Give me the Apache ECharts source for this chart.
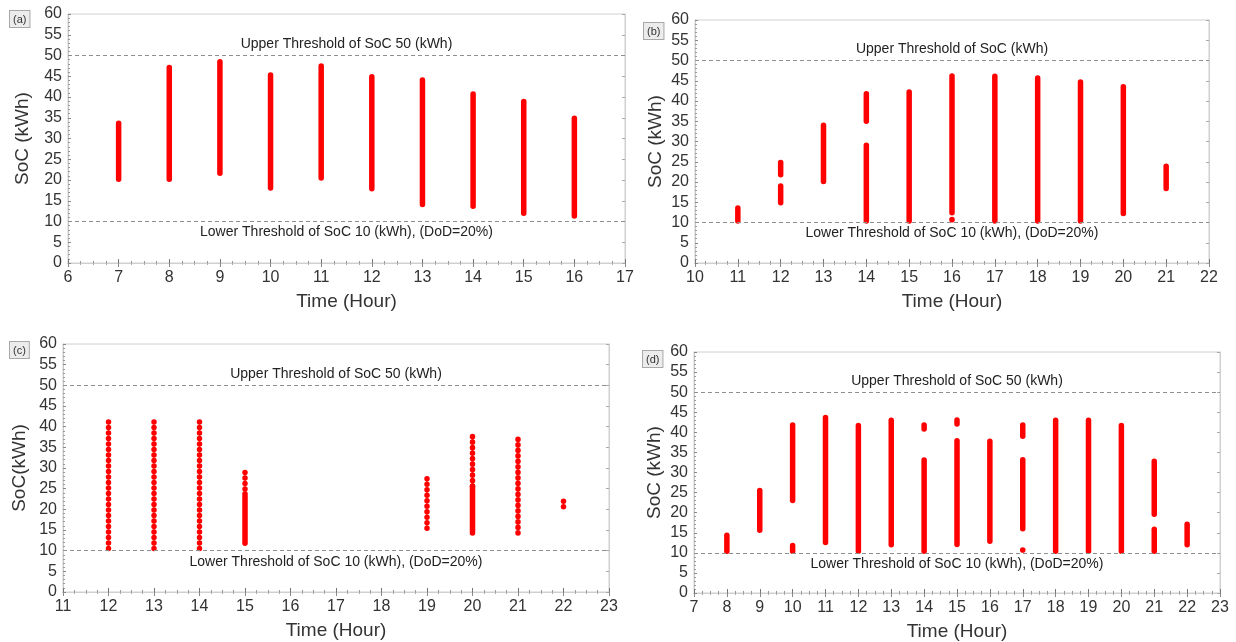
<!DOCTYPE html>
<html><head><meta charset="utf-8">
<script src="https://cdn.jsdelivr.net/npm/echarts@6/dist/echarts.min.js"></script>
<style>html,body{margin:0;padding:0;background:#fff}#c{width:1236px;height:642px}</style>
</head><body><div id="c"></div>
<script>
// ---------- DATA ----------
const yTicks = [0,5,10,15,20,25,30,35,40,45,50,55,60];
const upperThreshold = 50;
const lowerThreshold = 10;

// Panel (a): x range 6..17
const hoursA = [7, 8, 9, 10, 11, 12, 13, 14, 15, 16];
const lowA   = [20.2, 20.2, 21.6, 18.1, 20.5, 17.9, 14.1, 13.7, 12.0, 11.3];
const highA  = [33.7, 47.1, 48.5, 45.3, 47.5, 44.9, 44.1, 40.7, 38.9, 34.9];

// Panel (b): x range 10..22
const hoursB = [11, 12, 12, 13, 14, 14, 15, 16, 16, 17, 18, 19, 20, 21];
const lowB   = [10.4, 14.9, 21.8, 20.1, 10.4, 35.0, 10.4, 12.4, 10.7, 10.4, 10.4, 10.4, 12.2, 18.4];
const highB  = [13.6, 19.0, 24.8, 34.0, 29.1, 41.8, 42.2, 46.2, 10.7, 46.1, 45.7, 44.7, 43.5, 23.9];

// Panel (c): x range 11..23 — sparse (individually visible samples) and dense runs
const hoursCsparse = [12, 13, 14, 15, 19, 20, 21, 22];
const lowCsparse   = [10.5, 10.5, 10.5, 24.9, 15.4, 25.6, 14.3, 20.6];
const highCsparse  = [42.0, 42.0, 42.0, 28.9, 28.4, 37.9, 37.1, 22.8];
const hoursCdense  = [15, 20];
const lowCdense    = [11.8, 14.3];
const highCdense   = [23.8, 25.6];

// Panel (d): x range 7..23
const hoursD = [8, 9, 10, 10, 11, 12, 13, 14, 14, 15, 15, 16, 17, 17, 17, 18, 19, 20, 21, 21, 22];
const lowD   = [10.4, 15.6, 10.4, 23.0, 12.6, 10.4, 12.0, 10.4, 40.8, 12.1, 42.1, 12.9, 10.7, 16.0, 39.0, 10.4, 10.4, 10.4, 10.4, 19.6, 12.0];
const highD  = [14.4, 25.5, 11.8, 41.8, 43.7, 41.7, 43.0, 33.1, 41.8, 37.9, 43.1, 37.8, 10.7, 33.2, 41.8, 43.0, 43.0, 41.7, 15.9, 32.8, 17.1];

const upperLabelA = 'Upper Threshold of SoC 50 (kWh)';
const upperLabelB = 'Upper Threshold of SoC (kWh)';
const lowerLabel  = 'Lower Threshold of SoC 10 (kWh), (DoD=20%)';

// ---------- LAYOUT ----------
const TICK_FONT = "'Liberation Sans', Arial, sans-serif";
const NARROW_FONT = "'Liberation Sans Narrow', 'Liberation Sans', Arial, sans-serif";

const panels = [
  {tag:'(a)', grid:{left:68, top:14, width:557, height:249}, xMin:6, xMax:17, yName:'SoC (kWh)', yGap:36, upper:upperLabelA,
   segs:[{x:hoursA, lo:lowA, hi:highA, dotted:false}], tagPos:[9,10]},
  {tag:'(b)', grid:{left:695, top:20, width:514, height:243}, xMin:10, xMax:22, yName:'SoC (kWh)', yGap:30, upper:upperLabelB,
   segs:[{x:hoursB, lo:lowB, hi:highB, dotted:false}], tagPos:[643,22]},
  {tag:'(c)', grid:{left:63, top:344, width:546, height:248}, xMin:11, xMax:23, yName:'SoC(kWh)', yGap:34, upper:upperLabelA,
   segs:[{x:hoursCsparse, lo:lowCsparse, hi:highCsparse, dotted:true},{x:hoursCdense, lo:lowCdense, hi:highCdense, dotted:false}], tagPos:[9,341]},
  {tag:'(d)', grid:{left:694, top:352, width:526, height:241}, xMin:7, xMax:23, yName:'SoC (kWh)', yGap:30, upper:upperLabelA,
   segs:[{x:hoursD, lo:lowD, hi:highD, dotted:false}], tagPos:[642,350]}
];

const grids = [], xAxes = [], yAxes = [], series = [], graphics = [];

panels.forEach((p, gi) => {
  grids.push(Object.assign({show:true, borderColor:'#d0d0d0', borderWidth:1, backgroundColor:'#fff'}, p.grid));
  const baseX = {type:'value', gridIndex:gi, min:p.xMin, max:p.xMax, interval:1, splitLine:{show:false}};
  xAxes.push(Object.assign({}, baseX, {
    position:'bottom',
    axisLine:{show:true, lineStyle:{color:'#777', width:1}},
    axisTick:{show:true, inside:true, length:4, lineStyle:{color:'#777'}},
    minorTick:{show:true, splitNumber:4, length:2, lineStyle:{color:'#999'}},
    axisLabel:{fontSize:16, color:'#333', margin:7, fontFamily:TICK_FONT},
    name:'Time (Hour)', nameLocation:'middle', nameGap:29,
    nameTextStyle:{fontSize:19, color:'#333', fontFamily:TICK_FONT}
  }));
  xAxes.push(Object.assign({}, baseX, {
    position:'top',
    axisLine:{show:true, lineStyle:{color:'#d0d0d0'}},
    axisTick:{show:true, inside:true, length:4, lineStyle:{color:'#888'}},
    minorTick:{show:true, splitNumber:4, length:2, lineStyle:{color:'#aaa'}},
    axisLabel:{show:false}
  }));
  const baseY = {type:'value', gridIndex:gi, min:yTicks[0], max:yTicks[yTicks.length-1], interval:yTicks[1]-yTicks[0], splitLine:{show:false}};
  yAxes.push(Object.assign({}, baseY, {
    position:'left',
    axisLine:{show:true, lineStyle:{color:'#c8c8c8'}},
    axisTick:{show:true, inside:true, length:3, lineStyle:{color:'#888'}},
    minorTick:{show:true, splitNumber:5, length:2, lineStyle:{color:'#999'}},
    axisLabel:{fontSize:16, color:'#333', margin:6, fontFamily:TICK_FONT},
    name:p.yName, nameLocation:'middle', nameGap:p.yGap, nameRotate:90,
    nameTextStyle:{fontSize:19, color:'#333', fontFamily:TICK_FONT}
  }));
  yAxes.push(Object.assign({}, baseY, {
    position:'right',
    axisLine:{show:true, lineStyle:{color:'#d0d0d0'}},
    axisTick:{show:true, inside:true, length:3, lineStyle:{color:'#aaa'}},
    minorTick:{show:false},
    axisLabel:{show:false}
  }));

  p.segs.forEach((s, si) => {
    const dotted = s.dotted;
    const ser = {
      type:'custom', xAxisIndex:gi*2, yAxisIndex:gi*2, silent:true, animation:false,
      data: s.x.map((h, i) => [h, s.lo[i], s.hi[i]]),
      encode:{x:0, y:[1,2]},
      renderItem: function(params, api){
        const x = api.value(0), lo = api.value(1), hi = api.value(2);
        const p1 = api.coord([x, lo]), p2 = api.coord([x, hi]);
        if (lo === hi) {
          return {type:'circle', shape:{cx:p1[0], cy:p1[1], r:2.8}, style:{fill:'#ff0000'}};
        }
        return {type:'line', shape:{x1:p1[0], y1:p1[1], x2:p2[0], y2:p2[1]},
          style:{stroke:'#ff0000', lineWidth:5.5, lineCap:'round', lineDash: dotted ? [0.1, 5.4] : null}};
      }
    };
    if (si === 0) {
      ser.markLine = {
        silent:true, symbol:'none', animation:false,
        lineStyle:{type:[4,3], color:'#8f8f8f', width:1},
        label:{fontSize:14, color:'#222', fontFamily:NARROW_FONT, distance:4},
        data:[
          {yAxis:upperThreshold, label:{formatter:p.upper, position:'insideMiddleTop'}},
          {yAxis:lowerThreshold, label:{formatter:lowerLabel, position:'insideMiddleBottom'}}
        ]
      };
    }
    series.push(ser);
  });

  graphics.push({
    type:'text', left:p.tagPos[0], top:p.tagPos[1], z:100,
    style:{text:p.tag, fill:'#333', font:"11px 'Liberation Sans', Arial, sans-serif",
      backgroundColor:'#ececec', borderColor:'#a8a8a8', borderWidth:1, padding:[3,3,2,3]}
  });
});

const chart = echarts.init(document.getElementById('c'), null, {renderer:'canvas'});
chart.setOption({
  animation:false,
  backgroundColor:'#fff',
  grid:grids, xAxis:xAxes, yAxis:yAxes, series:series, graphic:graphics
});
</script>
</body></html>
